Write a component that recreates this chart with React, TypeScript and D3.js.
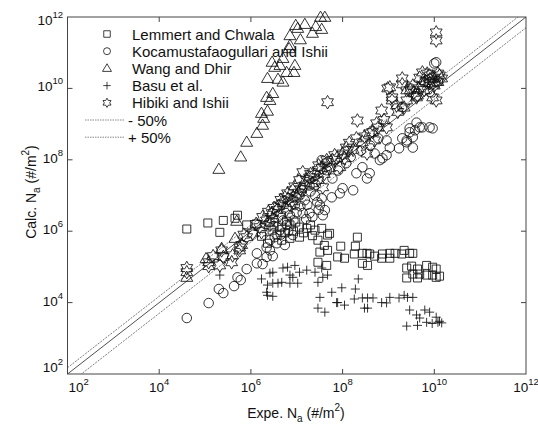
import React from 'react';
import * as d3 from 'd3';

type Pt = [number, number];

const lemmert: Pt[] = [
  [4.0e4,1.15e6],[1.15e5,1.7e6],[2.5e5,2.0e6],[2.1e5,9.3e5],[4.5e5,2.3e6],[5.1e5,2.8e6],[8.1e5,1.5e6],[1.3e6,1.6e6],
  [2.6e6,1.8e6],[4.7e6,1.3e6],[7.1e6,1.5e6],[1.15e7,1.3e6],[1.65e7,1.2e6],[2.5e7,1.07e6],[3.5e7,1.2e6],[1.15e7,6.8e5],
  [7.1e6,6.3e5],[4.7e6,5.6e5],[3.7e6,7.8e5],[2.9e7,5.6e5],[4.7e7,7.8e5],[3.2e7,2.6e5],[4.7e7,2.9e5],[2.9e7,1.35e5],
  [4.5e7,1.1e5],[5.2e7,8.7e5],[9.1e7,3.8e5],[7.8e7,1.9e5],[1.1e8,1.75e5],[2.1e8,6.8e5],[1.9e8,3.8e5],[1.8e8,2.3e5],
  [2.7e8,2.4e5],[3.4e8,2.4e5],[3.9e8,2.3e5],[2.7e8,1.26e5],[3.5e8,1.1e5],[5.0e8,2.0e5],[7.1e8,1.75e5],[7.4e8,2.3e5],
  [1.07e9,2.4e5],[1.07e9,1.75e5],[1.4e9,2.4e5],[1.95e9,2.3e5],[2.2e9,2.9e5],[2.9e9,2.4e5],[3.4e9,2.4e5],[2.5e9,9.3e4],
  [3.2e9,1.05e5],[4.3e9,8.7e4],[6.8e9,1.1e5],[9.2e9,9.8e4],[1.1e10,8.7e4],[2.5e9,4.9e4],[4.3e9,4.9e4],[4.8e9,6.3e4],
  [6.8e9,5.9e4],[9.2e9,5.9e4],[1.3e10,5.5e4],[1.1e10,5.1e4],[3.4e9,6.3e4],[1.7e6,7.2e5],[2.3e6,4.6e5],[2.9e6,1.07e6],
  [5.5e6,9.0e5],[8.5e6,1.0e6],[1.4e7,9.0e5],[2.0e7,1.5e6],[6.0e6,1.9e6],[3.2e6,1.4e6],[9.5e6,1.8e6],[2.2e7,7.5e5],[4.0e7,4.0e5]
];

const kocamustafaogullari: Pt[] = [
  [4.0e4,3.7e3],[1.2e5,9.7e3],[2.0e5,2.4e4],[2.5e5,1.85e4],[4.3e5,2.9e4],[5.1e5,5.1e4],[6.0e5,4.3e4],[8.1e5,8.7e4],
  [1.35e6,1.26e5],[1.8e6,1.2e5],[2.2e6,1.9e5],[1.35e6,2.4e5],[2.2e6,3.5e5],[2.6e6,5.6e5],[3.3e6,6.8e5],[4.3e6,1.07e6],
  [1.0e7,3.4e6],[1.35e7,3.2e6],[2.2e7,2.5e6],[2.8e7,6.5e6],[3.5e7,8.3e6],[4.1e7,3.9e6],[4.1e7,7.9e7],[4.7e7,8.5e7],
  [3.5e7,9.8e7],[4.5e7,5.1e7],[5.8e7,8.9e6],[1.0e8,1.6e7],[8.7e7,1.15e7],[1.7e8,1.4e7],[2.0e8,4.2e7],[2.7e8,6.2e7],
  [3.9e8,4.2e7],[3.4e8,3.0e7],[6.5e8,9.8e7],[9.1e8,1.35e8],[1.07e9,2.2e8],[1.7e9,2.1e8],[2.0e9,4.0e8],[2.5e9,3.1e8],
  [3.4e9,4.3e8],[2.9e9,7.6e8],[3.8e9,6.7e8],[4.8e9,8.1e8],[7.9e9,8.1e8],[9.2e9,7.6e8],[4.1e9,1.1e9],[9.1e8,3.5e8],
  [1.0e10,5.0e10],[1.1e10,5.4e10],[5.5e9,8.1e8],[2.9e9,5.9e8],[3.4e9,2.2e8],[2.5e9,3.5e8],[7.4e8,1.1e8],
  [6.0e6,1.5e6],[7.1e6,2.8e6],[8.2e6,7.8e5],[5.5e6,4.1e5],[9.1e6,5.4e6],[1.15e7,1.0e7],[1.5e7,7.4e6],[1.9e7,1.9e7],
  [2.5e7,1.0e7],[3.2e7,5.4e6],[3.7e7,2.8e6],[1.9e7,3.2e6],[3.7e6,4.6e5],[2.6e6,2.9e5],
  [3.0e9,1.0e10],[6.0e9,1.5e10],[9.0e9,2.0e10],[1.2e10,1.6e10],[4.0e9,6.0e9],[8.0e9,8.0e9],[2.0e9,3.0e9],
  [6.0e7,3.0e7],[8.0e7,5.0e7],[1.2e8,8.0e7],[1.5e8,1.2e8],[2.5e8,1.8e8],[4.0e8,2.5e8],[6.0e8,4.0e8],[5.0e8,1.5e8],
  [5.0e6,2.0e6],[6.5e6,1.0e6],[8.5e6,2.0e6],[1.2e7,5.0e6],[1.3e7,1.4e7],[1.7e7,5.5e6],[2.0e7,1.3e7],[2.6e7,2.0e7],
  [3.0e7,4.0e6],[1.6e7,2.2e6],[4.5e6,8.0e5],[3.0e6,2.0e5]
];

const wangDhir: Pt[] = [
  [4.0e4,5.1e4],[1.05e5,1.7e5],[2.3e5,3.3e5],[4.5e5,6.3e5],[4.9e5,1.9e6],[2.0e5,5.4e7],[6.0e5,1.2e8],[8.1e5,3.1e8],
  [1.35e6,5.5e8],[1.8e6,9.3e8],[1.7e6,2.0e9],[2.3e6,2.3e9],[2.2e6,5.6e9],[3.0e6,7.2e9],[2.6e6,4.6e9],[2.3e6,1.9e10],
  [3.9e6,1.8e10],[5.0e6,1.5e10],[6.0e6,2.8e10],[8.7e6,2.8e10],[9.1e6,4.4e10],[2.9e6,5.4e10],[3.3e6,3.9e10],[4.3e6,4.4e10],
  [5.0e6,6.9e10],[7.1e6,1.6e11],[6.8e6,1.3e11],[1.2e7,2.3e11],[7.1e6,3.0e11],[1.05e7,4.8e11],[1.5e7,6.2e11],[2.2e7,3.5e11],
  [2.6e7,5.4e11],[3.5e7,4.5e11],[3.3e7,9.8e11],[4.1e7,9.8e11],[9.5e6,5.8e11],[1.9e6,1.45e9]
];

const basu: Pt[] = [
  [2.1e5,5.9e4],[1.7e6,4.6e4],[2.6e6,6.7e4],[3.0e6,7.1e4],[2.3e6,3.1e4],[3.0e6,3.5e4],[3.9e6,3.5e4],[5.0e6,9.3e4],
  [6.3e6,9.8e4],[9.1e6,1.1e5],[7.1e6,5.9e4],[8.2e6,5.1e4],[1.15e7,7.1e4],[1.65e7,8.1e4],[7.1e6,3.5e4],[1.05e7,3.5e4],
  [4.7e6,3.7e4],[2.2e6,1.95e4],[2.3e6,1.6e4],[3.0e6,1.5e4],[2.5e7,7.1e4],[2.9e7,3.7e4],[3.7e7,5.1e4],[4.7e7,5.9e4],
  [3.5e7,9.3e4],[3.2e7,1.4e4],[5.8e7,1.95e4],[7.4e7,1.0e4],[2.9e7,7.0e3],[4.1e7,5.4e3],[2.2e8,4.6e4],[9.6e7,2.6e4],
  [1.9e8,2.4e4],[7.8e7,1.0e4],[1.1e8,8.5e3],[1.8e8,1.26e4],[2.7e8,1.35e4],[3.5e8,1.35e4],[4.6e8,1.35e4],[3.0e8,7.0e3],
  [3.5e8,7.0e3],[7.1e8,1.0e4],[1.07e9,1.4e4],[9.1e8,9.8e3],[1.7e9,1.35e4],[2.2e9,1.6e4],[2.6e9,1.4e4],[3.4e9,1.4e4],
  [2.9e9,6.2e3],[4.1e9,4.5e3],[6.2e9,6.2e3],[7.9e9,5.4e3],[1.1e10,3.9e3],[1.45e10,2.7e3],[2.5e9,2.2e3],[4.3e9,2.3e3],
  [6.8e9,2.8e3],[4.8e9,3.7e3],[1.2e10,2.8e3],[9.0e9,2.6e3],[1.3e10,3.0e3]
];

const hibiki: Pt[] = [
  [4.0e4,7.1e4],[4.0e4,9.3e4],[1.2e5,1.05e5],[1.2e5,1.35e5],[2.1e5,1.1e5],[2.3e5,2.9e5],[2.5e5,1.9e5],[3.8e5,1.35e5],
  [4.0e5,2.1e5],[5.7e5,2.9e5],[5.7e5,3.5e5],[6.3e5,4.1e5],[8.1e5,6.8e5],[1.1e6,8.7e5],[1.55e6,1.3e6],[1.7e6,9.3e5],
  [2.2e6,2.0e6],[2.9e6,3.2e6],[2.6e6,1.5e6],[3.7e6,3.9e6],[5.0e6,6.0e6],[4.3e6,2.8e6],[5.5e6,8.9e6],[6.3e6,1.15e7],
  [7.1e6,5.4e6],[8.2e6,1.4e7],[1.0e7,1.0e7],[1.15e7,2.7e7],[1.35e7,4.5e7],[1.5e7,1.9e7],[1.9e7,3.2e7],[2.2e7,2.2e7],
  [2.9e7,5.1e7],[2.9e7,2.7e7],[3.7e7,1.7e7],[4.5e7,9.8e7],[5.2e7,5.8e7],[8.7e7,6.2e7],[6.7e7,1.35e8],[1.2e8,2.2e8],
  [1.7e8,1.9e8],[2.7e8,3.1e8],[3.4e8,1.5e8],[3.9e8,5.5e8],[5.0e8,3.5e8],[7.1e8,2.4e9],[9.1e8,8.1e8],[9.6e8,1.0e10],
  [1.2e9,5.6e9],[1.2e9,4.6e9],[1.5e9,3.3e9],[2.0e9,1.9e10],[2.2e9,2.9e9],[2.5e9,8.8e9],[2.5e9,4.6e9],[3.4e9,1.2e10],
  [4.1e9,5.6e9],[4.3e9,6.3e9],[4.8e9,2.0e10],[5.5e9,2.8e10],[5.5e9,1.2e10],[7.9e9,2.3e10],[7.9e9,1.4e10],[9.2e9,1.4e10],
  [9.2e9,5.6e9],[1.1e10,4.6e9],[1.3e10,2.3e10],[1.45e10,1.9e10],
  [3.0e6,2.2e6],[4.0e6,5.0e6],[6.0e6,4.0e6],[8.0e6,7.0e6],[1.2e7,1.5e7],[2.0e7,4.0e7],[3.5e7,6.0e7],[6.0e7,1.0e8],
  [1.0e8,1.5e8],[1.4e8,3.0e8],[2.0e8,4.0e8],[2.0e9,1.3e10],[3.0e9,9.0e9],[6.0e9,9.0e9],[8.0e9,1.8e10],[1.2e10,2.6e10],
  [1.5e5,2.0e5],[7.0e5,8.0e5],[1.3e6,1.6e6],
  [1.8e6,2.5e6],[2.4e6,3.5e6],[3.2e6,4.5e6],[4.5e6,7.5e6],[6.5e6,8.0e6],[9.0e6,1.8e7],[1.1e7,1.2e7],[1.6e7,2.8e7],
  [2.4e7,3.8e7],[3.0e7,7.0e7],[4.0e7,4.0e7],[7.5e7,1.1e8],[1.1e8,1.1e8],[1.3e8,1.8e8],[3.0e8,4.5e8],[4.5e8,6.0e8],
  [6.0e8,8.0e8],[8.0e8,1.3e9],[1.6e9,2.2e9],[3.6e9,7.5e9],[4.5e9,1.0e10],[6.5e9,1.6e10],[7.0e9,2.6e10],[1.0e10,2.0e10],
  [1.0e10,1.2e10],[1.2e10,1.5e10],
  [4.7e7,4.1e9],[2.1e8,1.26e9],[5.5e8,1.05e9],[1.07e9,1.07e10],[1.1e10,3.7e11],[1.1e10,2.2e11]
];

const seriesNames = ['Lemmert and Chwala', 'Kocamustafaogullari and Ishii', 'Wang and Dhir', 'Basu et al.', 'Hibiki and Ishii'];
const seriesShapes = ['square', 'circle', 'triangle', 'plus', 'star'];
const bandLabels = ['- 50%', '+ 50%'];
const bandFactors = [0.5, 1.5];
const tickExponents = [2, 4, 6, 8, 10, 12];
const domainMin = 1e2;
const domainMax = 1e12;

const W = 538, H = 428;
const L = 67.5, R = 526, T = 17, B = 374;
const FONT = '"Liberation Sans", Arial, Helvetica, sans-serif';

function shapePath(kind: string, s: number): string {
  if (kind === 'square') { const h = s / 2; return `M${-h},${-h}H${h}V${h}H${-h}Z`; }
  if (kind === 'circle') { const r = s / 2; return `M${r},0A${r},${r} 0 1,1 ${-r},0A${r},${r} 0 1,1 ${r},0Z`; }
  if (kind === 'triangle') { const w = s * 0.6; return `M0,${-s * 0.62}L${w},${s * 0.4}L${-w},${s * 0.4}Z`; }
  if (kind === 'plus') { const h = s / 2; return `M${-h},0H${h}M0,${-h}V${h}`; }
  const Ro = s * 0.62, Ri = Ro / Math.sqrt(3);
  const pts: string[] = [];
  for (let i = 0; i < 12; i++) {
    const a = -Math.PI / 2 + (i * Math.PI) / 6;
    const r = i % 2 === 0 ? Ro : Ri;
    pts.push(`${(r * Math.cos(a)).toFixed(2)},${(r * Math.sin(a)).toFixed(2)}`);
  }
  return 'M' + pts.join('L') + 'Z';
}

const plotSizes: Record<string, number> = { square: 8, circle: 9.5, triangle: 10, plus: 9, star: 11 };
const legendSizes: Record<string, number> = { square: 6.5, circle: 7, triangle: 7.5, plus: 7.5, star: 7.5 };

export default function App() {
  const x = d3.scaleLog().domain([domainMin, domainMax]).range([L, R]);
  const y = d3.scaleLog().domain([domainMin, domainMax]).range([B, T]);
  const allSeries = [lemmert, kocamustafaogullari, wangDhir, basu, hibiki];
  const line = d3.line<number>().x(v => x(v)).y(v => y(v));
  const diag = [domainMin, domainMax];
  const bandLine = (f: number) => d3.line<number>().x(v => x(v)).y(v => y(v * f))(diag) || '';

  return (
    <svg width={W} height={H} style={{ position: 'absolute', left: 0, top: 0, background: '#fff' }} fontFamily={FONT}>
      <rect x={0} y={0} width={W} height={H} fill="#fff" />
      <defs>
        <clipPath id="plotclip"><rect x={L} y={T} width={R - L} height={B - T} /></clipPath>
      </defs>
      <g clipPath="url(#plotclip)">
        <path d={line(diag) || ''} stroke="#222" strokeWidth={0.8} fill="none" />
        {bandFactors.map((f, i) => (
          <path key={i} d={bandLine(f)} stroke="#444" strokeWidth={0.7} strokeDasharray="2,1.2" fill="none" />
        ))}
      </g>
      <rect x={L} y={T} width={R - L} height={B - T} fill="none" stroke="#444" strokeWidth={1} />
      {tickExponents.slice(1, -1).map(e => {
        const v = Math.pow(10, e);
        return (
          <g key={'t' + e} stroke="#444" strokeWidth={1}>
            <line x1={x(v)} x2={x(v)} y1={B} y2={B - 5} />
            <line x1={x(v)} x2={x(v)} y1={T} y2={T + 5} />
            <line x1={L} x2={L + 5} y1={y(v)} y2={y(v)} />
            <line x1={R} x2={R - 5} y1={y(v)} y2={y(v)} />
          </g>
        );
      })}
      {tickExponents.map((e, i) => {
        const v = Math.pow(10, e);
        const first = i === 0;
        return (
          <text key={'xl' + e} x={first ? x(v) + 1 : x(v)} y={392} fontSize={13.5} textAnchor={first ? 'start' : 'middle'} fill="#111">
            <tspan>10</tspan><tspan dy={-7} fontSize={9.5}>{e}</tspan>
          </text>
        );
      })}
      {tickExponents.map((e, i) => {
        const v = Math.pow(10, e);
        let by = y(v) + 3;
        if (i === 0) by = y(v) - 2;
        if (i === tickExponents.length - 1) by = y(v) + 8;
        return (
          <text key={'yl' + e} x={63} y={by} fontSize={13.5} textAnchor="end" fill="#111">
            <tspan>10</tspan><tspan dy={-7} fontSize={9.5}>{e}</tspan>
          </text>
        );
      })}
      <text x={296} y={418} fontSize={14} textAnchor="middle" fill="#111">
        <tspan>Expe. N</tspan><tspan dy={4} fontSize={10}>a</tspan><tspan dy={-4}> (#/m</tspan><tspan dy={-7} fontSize={10}>2</tspan><tspan dy={7}>)</tspan>
      </text>
      <text transform="translate(36,192) rotate(-90)" x={0} y={0} fontSize={14} textAnchor="middle" fill="#111">
        <tspan>Calc. N</tspan><tspan dy={4} fontSize={10}>a</tspan><tspan dy={-4}> (#/m</tspan><tspan dy={-7} fontSize={10}>2</tspan><tspan dy={7}>)</tspan>
      </text>
      {allSeries.map((data, si) => {
        const kind = seriesShapes[si];
        const d = shapePath(kind, plotSizes[kind]);
        return (
          <g key={'s' + si} fill="none" stroke="#111" strokeWidth={0.85}>
            {data.map((p, j) => (
              <path key={j} d={d} transform={`translate(${x(p[0]).toFixed(2)},${y(p[1]).toFixed(2)})`} />
            ))}
          </g>
        );
      })}
      {seriesNames.map((name, i) => {
        const ly = 34 + i * 17.2;
        const kind = seriesShapes[i];
        return (
          <g key={'lg' + i}>
            <path d={shapePath(kind, legendSizes[kind])} transform={`translate(107,${ly})`} fill="none" stroke="#111" strokeWidth={0.8} />
            <text x={132} y={ly + 5.5} fontSize={15} fill="#111">{name}</text>
          </g>
        );
      })}
      {bandLabels.map((lab, i) => {
        const ly = 34 + (5 + i) * 17.2;
        return (
          <g key={'bl' + i}>
            <line x1={85} x2={125} y1={ly} y2={ly} stroke="#555" strokeWidth={0.7} strokeDasharray="1.5,1" />
            <text x={128} y={ly + 5.5} fontSize={15} fill="#111">{lab}</text>
          </g>
        );
      })}
    </svg>
  );
}
